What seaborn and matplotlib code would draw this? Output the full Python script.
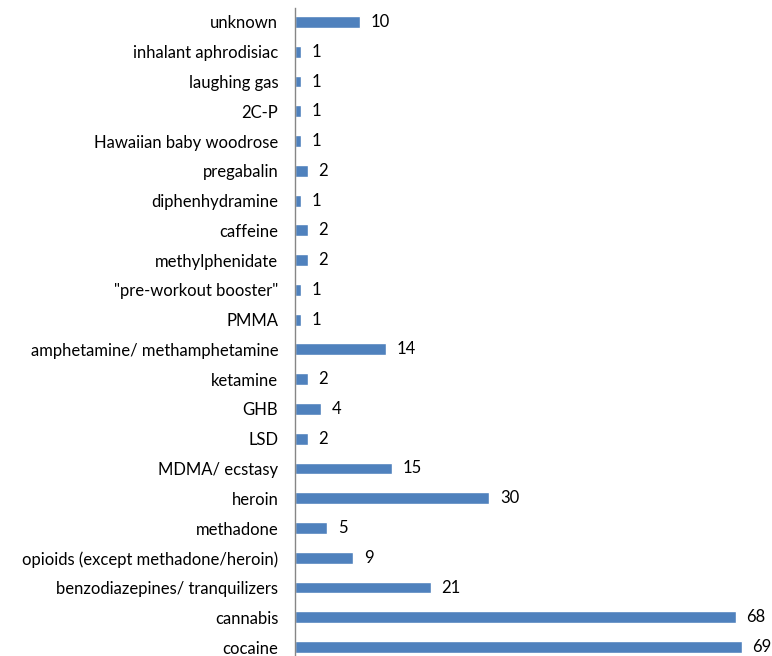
import pandas as pd
import matplotlib
matplotlib.use("Agg")
import matplotlib.pyplot as plt
import seaborn as sns

# Data
substances = ["unknown", "inhalant aphrodisiac", "laughing gas", "2C-P",
              "Hawaiian baby woodrose", "pregabalin", "diphenhydramine",
              "caffeine", "methylphenidate", "\"pre-workout booster\"", "PMMA",
              "amphetamine/ methamphetamine", "ketamine", "GHB", "LSD",
              "MDMA/ ecstasy", "heroin", "methadone",
              "opioids (except methadone/heroin)",
              "benzodiazepines/ tranquilizers", "cannabis", "cocaine"]
counts = [10, 1, 1, 1, 1, 2, 1, 2, 2, 1, 1, 14, 2, 4, 2, 15, 30, 5, 9, 21, 68, 69]

data = pd.DataFrame({"substance": substances, "count": counts})

sns.set_style("white")
plt.rcParams["font.family"] = ["Lato", "DejaVu Sans"]

fig = plt.figure(figsize=(7.72, 6.56), dpi=100)
ax = fig.add_axes([295 / 772, 0, 1 - 295 / 772, 648 / 656])

sns.barplot(data=data, x="count", y="substance", orient="h",
            color="#4F81BD", saturation=1, width=0.4, ax=ax)

# Value labels
for i, v in enumerate(counts):
    ax.text(v + 1.6, i, str(v), va="center", ha="left", fontsize=12, color="black")

ax.set_xlim(0, 73.6)
ax.set_ylim(21.3, -0.47)
ax.set_xlabel("")
ax.set_ylabel("")
ax.set_xticks([])
ax.tick_params(axis="y", length=0, pad=12, labelsize=12, labelcolor="black")
for s in ["top", "right", "bottom"]:
    ax.spines[s].set_visible(False)
ax.spines["left"].set_color("#868686")
ax.spines["left"].set_linewidth(1)

fig.savefig("out.png", dpi=100)
